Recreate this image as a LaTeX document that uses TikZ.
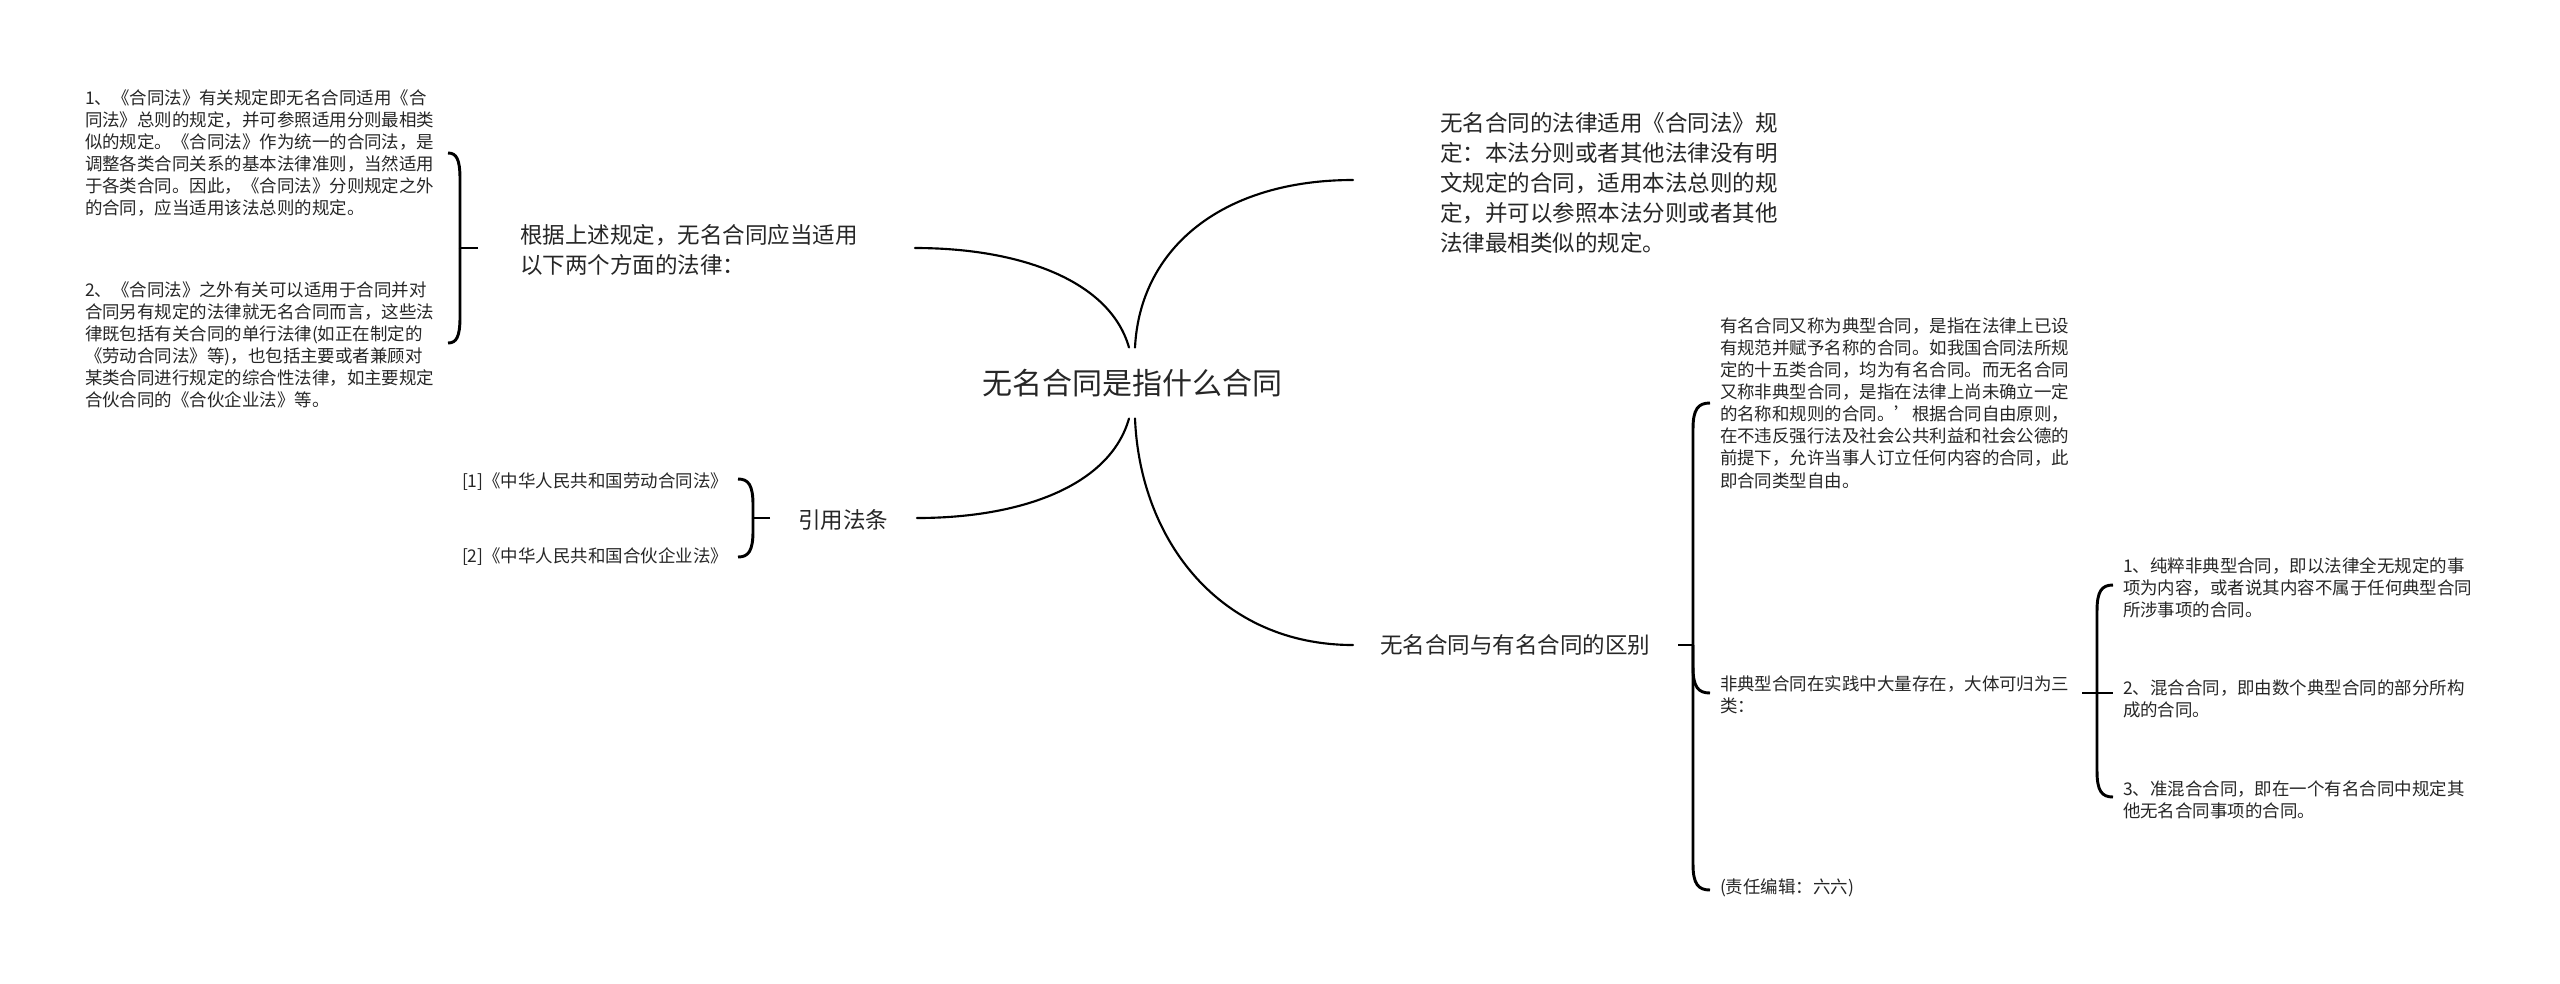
\documentclass[tikz,border=0pt]{standalone}
\usepackage{fontspec}
\setmainfont{Noto Sans CJK SC}
\usetikzlibrary{calc}
\definecolor{txt}{HTML}{262626}
\tikzset{
  x=0.75pt, y=-0.75pt,
  every node/.style={inner sep=0pt, outer sep=0pt, text=txt, align=left},
  big/.style={font=\fontsize{22.5pt}{28pt}\selectfont, minimum height=53.25pt},
  mid/.style={font=\fontsize{16.9pt}{22.5pt}\selectfont, anchor=west},
  small/.style={font=\fontsize{13.1pt}{16.6pt}\selectfont, anchor=west},
  link/.style={line width=1.6pt, draw=black, line cap=round},
  brace/.style={line width=2.2pt, draw=black}
}
% arm of a brace: #1 junction, #2 end point above the junction
\newcommand\armUp[2]{\draw[brace] (#1) -- ($(#2 -| #1)+(0,26)$) .. controls ($(#2 -| #1)+(0,6)$) and ($(#2)!0.7!(#2 -| #1)$) .. (#2);}
% arm of a brace: #1 junction, #2 end point below the junction
\newcommand\armDown[2]{\draw[brace] (#1) -- ($(#2 -| #1)+(0,-26)$) .. controls ($(#2 -| #1)+(0,-6)$) and ($(#2)!0.7!(#2 -| #1)$) .. (#2);}
\begin{document}
\begin{tikzpicture}
\useasboundingbox (0,0) rectangle (2560,983);

% nodes
\node[big] (title) at (1132,383) {无名合同是指什么合同};

\node[mid] (n1) at (520,250) {根据上述规定，无名合同应当适用\\以下两个方面的法律：};
\node[small] (n1a) at (85,153) {1、《合同法》有关规定即无名合同适用《合\\同法》总则的规定，并可参照适用分则最相类\\似的规定。《合同法》作为统一的合同法，是\\调整各类合同关系的基本法律准则，当然适用\\于各类合同。因此，《合同法》分则规定之外\\的合同，应当适用该法总则的规定。};
\node[small] (n1b) at (85,345) {2、《合同法》之外有关可以适用于合同并对\\合同另有规定的法律就无名合同而言，这些法\\律既包括有关合同的单行法律(如正在制定的\\《劳动合同法》等)，也包括主要或者兼顾对\\某类合同进行规定的综合性法律，如主要规定\\合伙合同的《合伙企业法》等。};

\node[mid] (n2) at (798,520) {引用法条};
\node[small] (n2a) at (462,482) {[1]《中华人民共和国劳动合同法》};
\node[small] (n2b) at (462,557) {[2]《中华人民共和国合伙企业法》};

\node[mid] (n3) at (1440,183) {无名合同的法律适用《合同法》规\\定：本法分则或者其他法律没有明\\文规定的合同，适用本法总则的规\\定，并可以参照本法分则或者其他\\法律最相类似的规定。};

\node[mid] (n4) at (1380,645) {无名合同与有名合同的区别};
\node[small] (n4a) at (1720,403) {有名合同又称为典型合同，是指在法律上已设\\有规范并赋予名称的合同。如我国合同法所规\\定的十五类合同，均为有名合同。而无名合同\\又称非典型合同，是指在法律上尚未确立一定\\的名称和规则的合同。’根据合同自由原则，\\在不违反强行法及社会公共利益和社会公德的\\前提下，允许当事人订立任何内容的合同，此\\即合同类型自由。};
\node[small] (n4b) at (1720,695) {非典型合同在实践中大量存在，大体可归为三\\类：};
\node[small] (n4c) at (1720,888) {(责任编辑：六六)};
\node[small] (n4b1) at (2123,588) {1、纯粹非典型合同，即以法律全无规定的事\\项为内容，或者说其内容不属于任何典型合同\\所涉事项的合同。};
\node[small] (n4b2) at (2123,699) {2、混合合同，即由数个典型合同的部分所构\\成的合同。};
\node[small] (n4b3) at (2123,800) {3、准混合合同，即在一个有名合同中规定其\\他无名合同事项的合同。};

% main connectors
\draw[link] ($(title.north)+(-3,0)$) .. controls +(-19,-67) and +(105,0) .. ($(n1.west)+(395,-2)$);
\draw[link] ($(title.south)+(-3,0)$) .. controls +(-19,67) and +(105,0) .. ($(n2.west)+(119,-2)$);
\draw[link] ($(title.north)+(3,0)$) .. controls +(5,-100) and +(-130,0) .. ($(n3.west)+(-87,-3)$);
\draw[link] ($(title.south)+(3,0)$) .. controls +(5,122) and +(-133,0) .. ($(n4.west)+(-27,0)$);

% brace of n1
\draw[brace] ($(n1.west)+(-42,-2)$) -- ++(-18,0) coordinate (j1);
\coordinate (e1a) at ($(n1a.west -| j1)+(-12,0)$);
\coordinate (e1b) at ($(n1b.west -| j1)+(-12,-2)$);
\armUp{j1}{e1a}
\armDown{j1}{e1b}

% brace of n2
\draw[brace] ($(n2.west)+(-28,-2)$) -- ++(-17,0) coordinate (j2);
\coordinate (e2a) at ($(n2a.west -| j2)+(-15,-3)$);
\coordinate (e2b) at ($(n2b.west -| j2)+(-15,0)$);
\armUp{j2}{e2a}
\armDown{j2}{e2b}

% brace of n4
\draw[brace] ($(n4.west)+(298,0)$) -- ++(15,0) coordinate (j4);
\coordinate (e4a) at ($(n4a.west -| j4)+(17,0)$);
\coordinate (e4b) at ($(n4b.west -| j4)+(17,-2)$);
\coordinate (e4c) at ($(n4c.west -| j4)+(17,2)$);
\armUp{j4}{e4a}
\armDown{j4}{e4b}
\armDown{j4}{e4c}

% brace of n4b
\draw[brace] ($(n4b.west)+(362,-2)$) -- ++(15,0) coordinate (j5);
\coordinate (e5a) at ($(n4b1.west -| j5)+(16,-3)$);
\coordinate (e5c) at ($(n4b3.west -| j5)+(16,-3)$);
\armUp{j5}{e5a}
\draw[brace] (j5) -- ($(n4b2.west -| j5)+(16,-6)$);
\armDown{j5}{e5c}
\end{tikzpicture}
\end{document}
